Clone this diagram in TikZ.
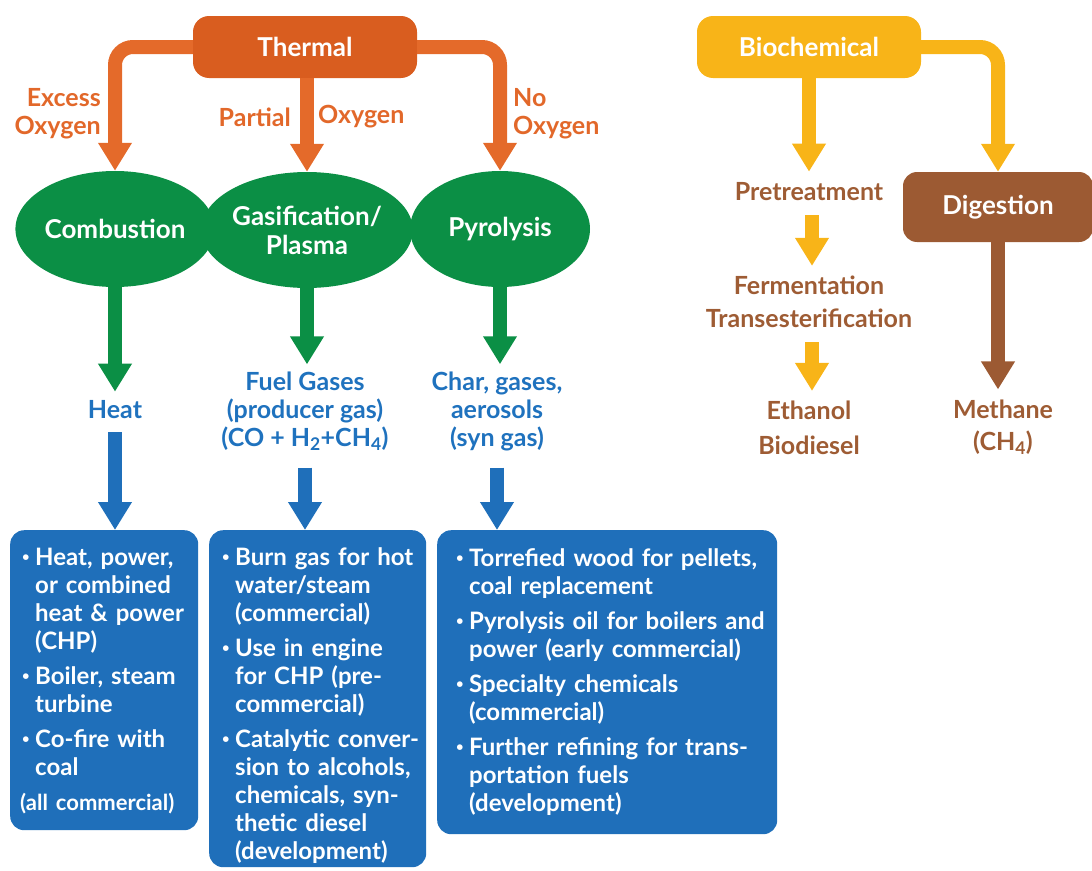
\documentclass[tikz,border=0pt]{standalone}
\usepackage{fontspec}
\setmainfont{Lato}
\usetikzlibrary{arrows.meta,shapes.geometric}
\definecolor{thermalc}{HTML}{D95D1F}
\definecolor{olab}{HTML}{E2682A}
\definecolor{oline}{HTML}{E46A2A}
\definecolor{grn}{HTML}{0B8F45}
\definecolor{blbox}{HTML}{1F6FBA}
\definecolor{bltext}{HTML}{1F72BE}
\definecolor{yel}{HTML}{F8B418}
\definecolor{brnbox}{HTML}{9C5A33}
\definecolor{brntext}{HTML}{9E5C34}
\newcommand{\bul}{\par\hangindent=15pt\hangafter=1\noindent\makebox[15pt][l]{\hspace{2pt}\raisebox{4pt}{\fontsize{13}{13}\selectfont\textbullet}}}
\newcommand{\bgap}{\par\vspace{7pt}}
\newcommand{\nl}{\hfil\break}
\begin{document}
\begin{tikzpicture}[x=1pt,y=-1pt,
  font=\bfseries\fontsize{25}{28}\selectfont,
  fat/.style={line width=14pt,-{Triangle[width=32pt,length=28pt]},rounded corners=18pt},
  oarrow/.style={fat,draw=oline},
  garrow/.style={fat,draw=grn},
  barrow/.style={fat,draw=blbox},
  yarrow/.style={fat,draw=yel},
  narrow/.style={fat,draw=brnbox},
  catbox/.style={rectangle,rounded corners=16pt,text=white,inner sep=0pt,font=\bfseries\fontsize{26}{28}\selectfont},
  oval/.style={ellipse,fill=grn,text=white,minimum width=180pt,minimum height=116pt,inner sep=0pt,align=center,font=\bfseries\fontsize{26}{28}\selectfont},
  lab/.style={text=olab,inner sep=0pt},
  btext/.style={text=bltext,inner sep=0pt,align=center},
  ntext/.style={text=brntext,inner sep=0pt,align=center},
  box/.style={rectangle,rounded corners=14pt,fill=blbox,inner sep=0pt,anchor=north west},
  boxtext/.style={text=white,inner sep=0pt,anchor=north west,font=\bfseries\fontsize{24}{28}\selectfont}
]
\useasboundingbox (0,0) rectangle (1092,870);

% Thermal branch
\node[catbox,fill=thermalc,minimum width=224pt,minimum height=62pt] (thermal) at (305,47) {Thermal};
\node[oval] (comb) at (115,229) {Combustion};
\node[oval] (gas) at (307,230) {Gasification/\\[1pt]Plasma};
\node[oval] (pyro) at (500,229) {Pyrolysis};

\node[lab,align=right,anchor=east] (excess) at (101,114) {Excess\\Oxygen};
\node[lab,anchor=east] (partial) at (291,117) {Partial};
\node[lab,anchor=west] (partialo) at (318,117) {Oxygen};
\node[lab,align=left,anchor=west] (noox) at (513,114) {No\\Oxygen};

\draw[oarrow] (thermal.west) -| (comb.north);
\draw[oarrow] (gas.north |- thermal.south) -- (gas.north);
\draw[oarrow] (thermal.east) -| (pyro.north);

\node[btext] (heat) at (115,410) {Heat};
\node[btext] (fuel) at (305,411) {Fuel Gases\\(producer gas)\\(CO + H\textsubscript{2}+CH\textsubscript{4})};
\node[btext] (char) at (497,411) {Char, gases,\\aerosols\\(syn gas)};

\draw[garrow] (comb.south) -- ([yshift=9pt]comb.south |- heat.north);
\draw[garrow] (gas.south) -- ([yshift=7pt]gas.south |- fuel.north);
\draw[garrow] (pyro.south) -- ([yshift=7pt]pyro.south |- char.north);

% Boxes
\node[box,minimum width=188pt,minimum height=300pt] (box1) at (10,530) {};
\node[box,minimum width=217pt,minimum height=337pt] (box2) at (209,530) {};
\node[box,minimum width=340pt,minimum height=304pt] (box3) at (437,530) {};

\draw[barrow] ([yshift=-13pt]heat.south) -- (heat.south |- box1.north);
\draw[barrow] ([yshift=-17pt]fuel.south) -- (fuel.south |- box2.north);
\draw[barrow] ([yshift=-17pt]char.south) -- (char.south |- box3.north);

\node[boxtext,text width=185pt] (t1) at (20,537) {\raggedright
\bul Heat, power,\nl or combined\nl heat \& power\nl (CHP)\bgap
\bul Boiler, steam\nl turbine\bgap
\bul Co-fire with\nl coal\bgap
\noindent{\fontsize{22}{28}\selectfont(all commercial)}\par};

\node[boxtext,text width=215pt] (t2) at (220,537) {\raggedright
\bul Burn gas for hot\nl water/steam\nl (commercial)\bgap
\bul Use in engine\nl for CHP (pre-\nl commercial)\bgap
\bul Catalytic conver-\nl sion to alcohols,\nl chemicals, syn-\nl thetic diesel\nl (development)\par};

\node[boxtext,text width=330pt] (t3) at (454,538) {\raggedright
\bul Torrefied wood for pellets,\nl coal replacement\bgap
\bul Pyrolysis oil for boilers and\nl power (early commercial)\bgap
\bul Specialty chemicals\nl (commercial)\bgap
\bul Further refining for trans-\nl portation fuels\nl (development)\par};

% Biochemical branch
\node[catbox,fill=yel,minimum width=224pt,minimum height=62pt] (bio) at (809,47) {Biochemical};
\node[catbox,fill=brnbox,minimum width=190pt,minimum height=70pt,rounded corners=14pt] (dig) at (998,207) {Digestion};

\node[ntext] (pret) at (809,192) {Pretreatment};
\node[ntext,execute at begin node={\fontsize{25}{33}\selectfont}] (ferm) at (809,302) {Fermentation\\Transesterification};
\node[ntext,execute at begin node={\fontsize{25}{35}\selectfont}] (eth) at (809,428) {Ethanol\\Biodiesel};
\node[ntext,execute at begin node={\fontsize{25}{32}\selectfont}] (meth) at (1003,427) {Methane\\(CH\textsubscript{4})};

\draw[yarrow] (bio.south -| pret.north) -- ([yshift=11pt]pret.north);
\draw[yarrow] (bio.east) -| (dig.north);
\draw[yarrow] ([xshift=3pt,yshift=-14pt]pret.south) -- ([xshift=3pt,yshift=10pt]ferm.north);
\draw[yarrow] ([xshift=3pt,yshift=-14pt]ferm.south) -- ([xshift=3pt,yshift=10pt]eth.north);
\draw[narrow] (dig.south) -- ([yshift=10pt]dig.south |- meth.north);
\end{tikzpicture}
\end{document}
